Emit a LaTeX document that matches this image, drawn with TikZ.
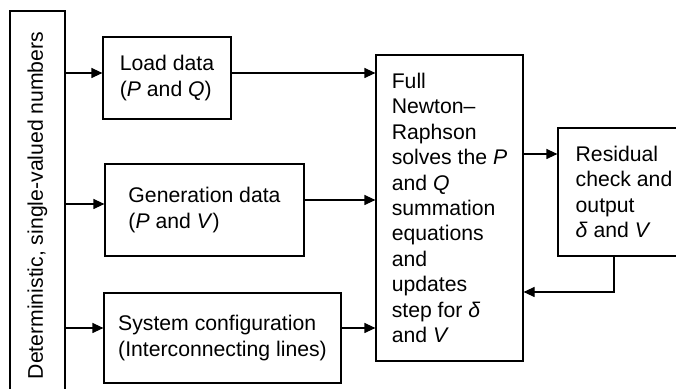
\documentclass[tikz,border=0pt]{standalone}
\usepackage{fontspec}
\setmainfont{Liberation Sans}
\usetikzlibrary{arrows.meta}

\begin{document}
\begin{tikzpicture}[x=0.5pt, y=-0.5pt, line width=0.6pt,
  font=\fontsize{10.6pt}{12.7pt}\selectfont,
  box/.style={draw, align=left, inner sep=0pt},
  arr/.style={-{Triangle[length=5.5pt, width=5pt]}}]
  % Frame (the original is cut off at the right and at the bottom)
  \useasboundingbox (0,0) rectangle (676,389);
  \clip (0,0) rectangle (676,389);

  % Input column
  \node[box, rotate=90, minimum width=194.5pt, minimum height=27.5pt] (inputs) at (37.5,205.5)
    {Deterministic, single-valued numbers};

  % Data boxes
  \node[box, minimum width=64pt, minimum height=41pt] (load) at (167,78)
    {Load data\\(\textit{P} and \textit{Q})};
  \node[box, minimum width=99.5pt, minimum height=46pt] (gen) at (204.5,210)
    {Generation data\\(\textit{P} and \textit{V})};
  \node[box, minimum width=118.5pt, minimum height=45pt] (sys) at (222.5,338)
    {System configuration\\(Interconnecting lines)};

  % Solver and check
  \node[box, minimum width=73.5pt, minimum height=153pt] (nr) at (449.5,208)
    {Full\\Newton--\\Raphson\\solves the \textit{P}\\and \textit{Q}\\summation\\equations\\and\\updates\\step for \textit{δ}\\and \textit{V}};
  \node[box, minimum width=66pt, minimum height=64pt] (res) at (624,192)
    {Residual\\check and\\output\\\textit{δ} and \textit{V}};

  % Anchor points for the connectors
  \coordinate (l1) at ([yshift=2.5pt]load.west);
  \coordinate (l2) at ([yshift=2.5pt]load.east);
  \coordinate (g1) at ([yshift=3pt]gen.west);
  \coordinate (g2) at ([yshift=5pt]gen.east);
  \coordinate (s1) at ([yshift=5pt]sys.west);
  \coordinate (s2) at ([yshift=5pt]sys.east);
  \coordinate (r1) at ([yshift=19pt]res.west);
  \coordinate (r2) at ([xshift=-5pt]res.south);
  \coordinate (n1) at ([yshift=-42pt]nr.east);

  % Inputs to data boxes
  \draw[arr] (inputs.south |- l1) -- (l1);
  \draw[arr] (inputs.south |- g1) -- (g1);
  \draw[arr] (inputs.south |- s1) -- (s1);

  % Data boxes to solver
  \draw[arr] (l2) -- (l2 -| nr.west);
  \draw[arr] (g2) -- (g2 -| nr.west);
  \draw[arr] (s2) -- (s2 -| nr.west);

  % Solver to check and back
  \draw[arr] (nr.east |- r1) -- (r1);
  \draw[arr] (r2) |- (n1);
\end{tikzpicture}
\end{document}
